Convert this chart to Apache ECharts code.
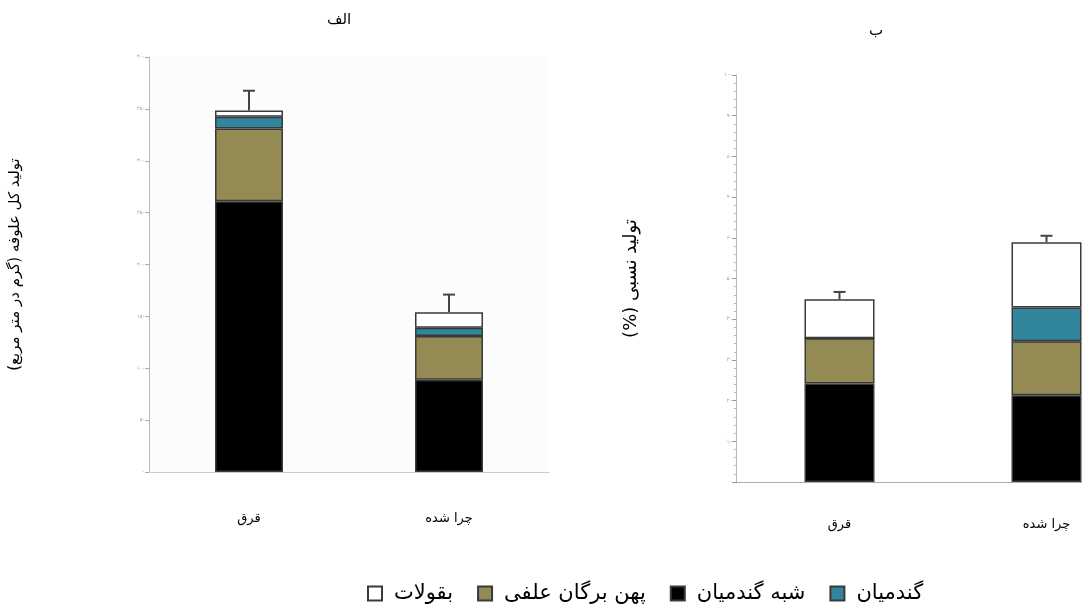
<!DOCTYPE html>
<html>
<head>
<meta charset="utf-8">
<script src="https://cdn.jsdelivr.net/npm/echarts@6/dist/echarts.min.js"></script>
<style>html,body{margin:0;padding:0;background:#fff;}#c{width:1082px;height:606px;}</style>
</head>
<body>
<div id="c"></div>
<script>
// ---- data ----
const categories = ['قرق', 'چرا شده'];
const seriesNames = ['شبه گندمیان', 'پهن برگان علفی', 'گندمیان', 'بقولات'];
// Panel A (forage production, g/m2)
const aSedge = [261, 89];
const aForb = [70, 42];
const aGrass = [11.5, 8];
const aLegume = [6, 15];
const aError = [19, 17];
// Panel B (relative, %)
const bSedge = [24.2, 21.3];
const bForb = [11.1, 13.3];
const bGrass = [0, 8.3];
const bLegume = [9.6, 16.0];
const bError = [1.8, 1.6];
const aTicks = ['۰','۵۰','۱۰۰','۱۵۰','۲۰۰','۲۵۰','۳۰۰','۳۵۰','۴۰۰'];
const bTicks = ['۰','۱۰','۲۰','۳۰','۴۰','۵۰','۶۰','۷۰','۸۰','۹۰','۱۰۰'];
const titleA = 'الف';
const titleB = 'ب';
const yNameA = 'تولید کل علوفه (گرم در متر مربع)\u200F';
const yNameB = 'تولید نسبی (%)\u200F';

const colors = ['#000000', '#948a54', '#31859c', '#ffffff'];
const legendOrder = ['بقولات', 'پهن برگان علفی', 'شبه گندمیان', 'گندمیان'];
const FONT = 'DejaVu Sans';

const chart = echarts.init(document.getElementById('c'), null, {renderer: 'canvas'});

function stackSeries(arrs, axisIdx, bw) {
  return arrs.map((d, i) => ({
    name: seriesNames[i],
    type: 'bar',
    stack: 'p' + axisIdx,
    xAxisIndex: axisIdx,
    yAxisIndex: axisIdx,
    barWidth: bw,
    data: d,
    itemStyle: {color: colors[i], borderColor: '#3a3a3a', borderWidth: 1.5},
    emphasis: {disabled: true},
    z: 2
  }));
}
function errSeries(arrs, err, axisIdx) {
  const totals = categories.map((_, k) => arrs.reduce((s, a) => s + a[k], 0));
  return {
    type: 'custom',
    xAxisIndex: axisIdx,
    yAxisIndex: axisIdx,
    data: categories.map((c, k) => [k, totals[k], totals[k] + err[k]]),
    renderItem: function (params, api) {
      const p0 = api.coord([api.value(0), api.value(1)]);
      const p1 = api.coord([api.value(0), api.value(2)]);
      return {
        type: 'group',
        children: [
          {type: 'line', shape: {x1: p0[0], y1: p0[1], x2: p1[0], y2: p1[1]}, style: {stroke: '#444', lineWidth: 2}},
          {type: 'line', shape: {x1: p1[0] - 6, y1: p1[1], x2: p1[0] + 6, y2: p1[1]}, style: {stroke: '#444', lineWidth: 2}}
        ]
      };
    },
    z: 3,
    silent: true
  };
}

const aData = [aSedge, aForb, aGrass, aLegume];
const bData = [bSedge, bForb, bGrass, bLegume];

const option = {
  animation: false,
  backgroundColor: '#ffffff',
  textStyle: {fontFamily: FONT},
  title: [
    {text: titleA, left: 322, top: 8, textStyle: {fontSize: 15, fontWeight: 'normal', color: '#000', fontFamily: FONT}},
    {text: titleB, left: 864, top: 19, textStyle: {fontSize: 15, fontWeight: 'normal', color: '#000', fontFamily: FONT}}
  ],
  legend: {
    data: legendOrder,
    left: 362,
    top: 578,
    itemWidth: 14,
    itemHeight: 14,
    itemGap: 24,
    icon: 'rect',
    selectedMode: false,
    textStyle: {fontSize: 21, color: '#000', fontFamily: FONT, padding: [0, 0, 0, 7]}
  },
  grid: [
    {left: 149, top: 57, width: 400, bottom: 134, backgroundColor: '#fcfcfc', show: true, borderWidth: 0, outerBoundsMode: 'none'},
    {left: 736, top: 75, width: 414, bottom: 124, outerBoundsMode: 'none'}
  ],
  xAxis: [
    {type: 'category', gridIndex: 0, data: categories,
     axisLine: {lineStyle: {color: '#cccccc', width: 1}}, axisTick: {show: false},
     axisLabel: {margin: 40, fontSize: 13, color: '#000', fontFamily: FONT}},
    {type: 'category', gridIndex: 1, data: categories,
     axisLine: {lineStyle: {color: '#999999', width: 1, type: 'dotted'}}, axisTick: {show: false},
     axisLabel: {margin: 36, fontSize: 13, color: '#000', fontFamily: FONT}}
  ],
  yAxis: [
    {type: 'value', gridIndex: 0, min: 0, max: 400, interval: 50,
     name: yNameA, nameLocation: 'middle', nameGap: 126, nameRotate: 90,
     nameTextStyle: {fontSize: 15, color: '#000', fontFamily: FONT},
     axisLine: {show: true, lineStyle: {color: '#bbbbbb', width: 1}},
     axisTick: {show: true, length: 4, lineStyle: {color: '#aaaaaa'}},
     splitLine: {show: false},
     axisLabel: {fontSize: 5, color: '#999', margin: 4, formatter: (v, i) => aTicks[i]}},
    {type: 'value', gridIndex: 1, min: 0, max: 100, interval: 10,
     name: yNameB, nameLocation: 'middle', nameGap: 96, nameRotate: 90,
     nameTextStyle: {fontSize: 18, color: '#000', fontFamily: FONT},
     axisLine: {show: true, lineStyle: {color: '#aaaaaa', width: 1, type: 'dotted'}},
     axisTick: {show: true, length: 4, lineStyle: {color: '#999999'}},
     minorTick: {show: true, splitNumber: 5, length: 2, lineStyle: {color: '#bbbbbb'}},
     splitLine: {show: false},
     axisLabel: {fontSize: 5, color: '#999', margin: 4, formatter: (v, i) => bTicks[i]}}
  ],
  series: [
    ...stackSeries(aData, 0, 68),
    errSeries(aData, aError, 0),
    ...stackSeries(bData, 1, 70),
    errSeries(bData, bError, 1)
  ]
};
chart.setOption(option);
</script>
</body>
</html>
